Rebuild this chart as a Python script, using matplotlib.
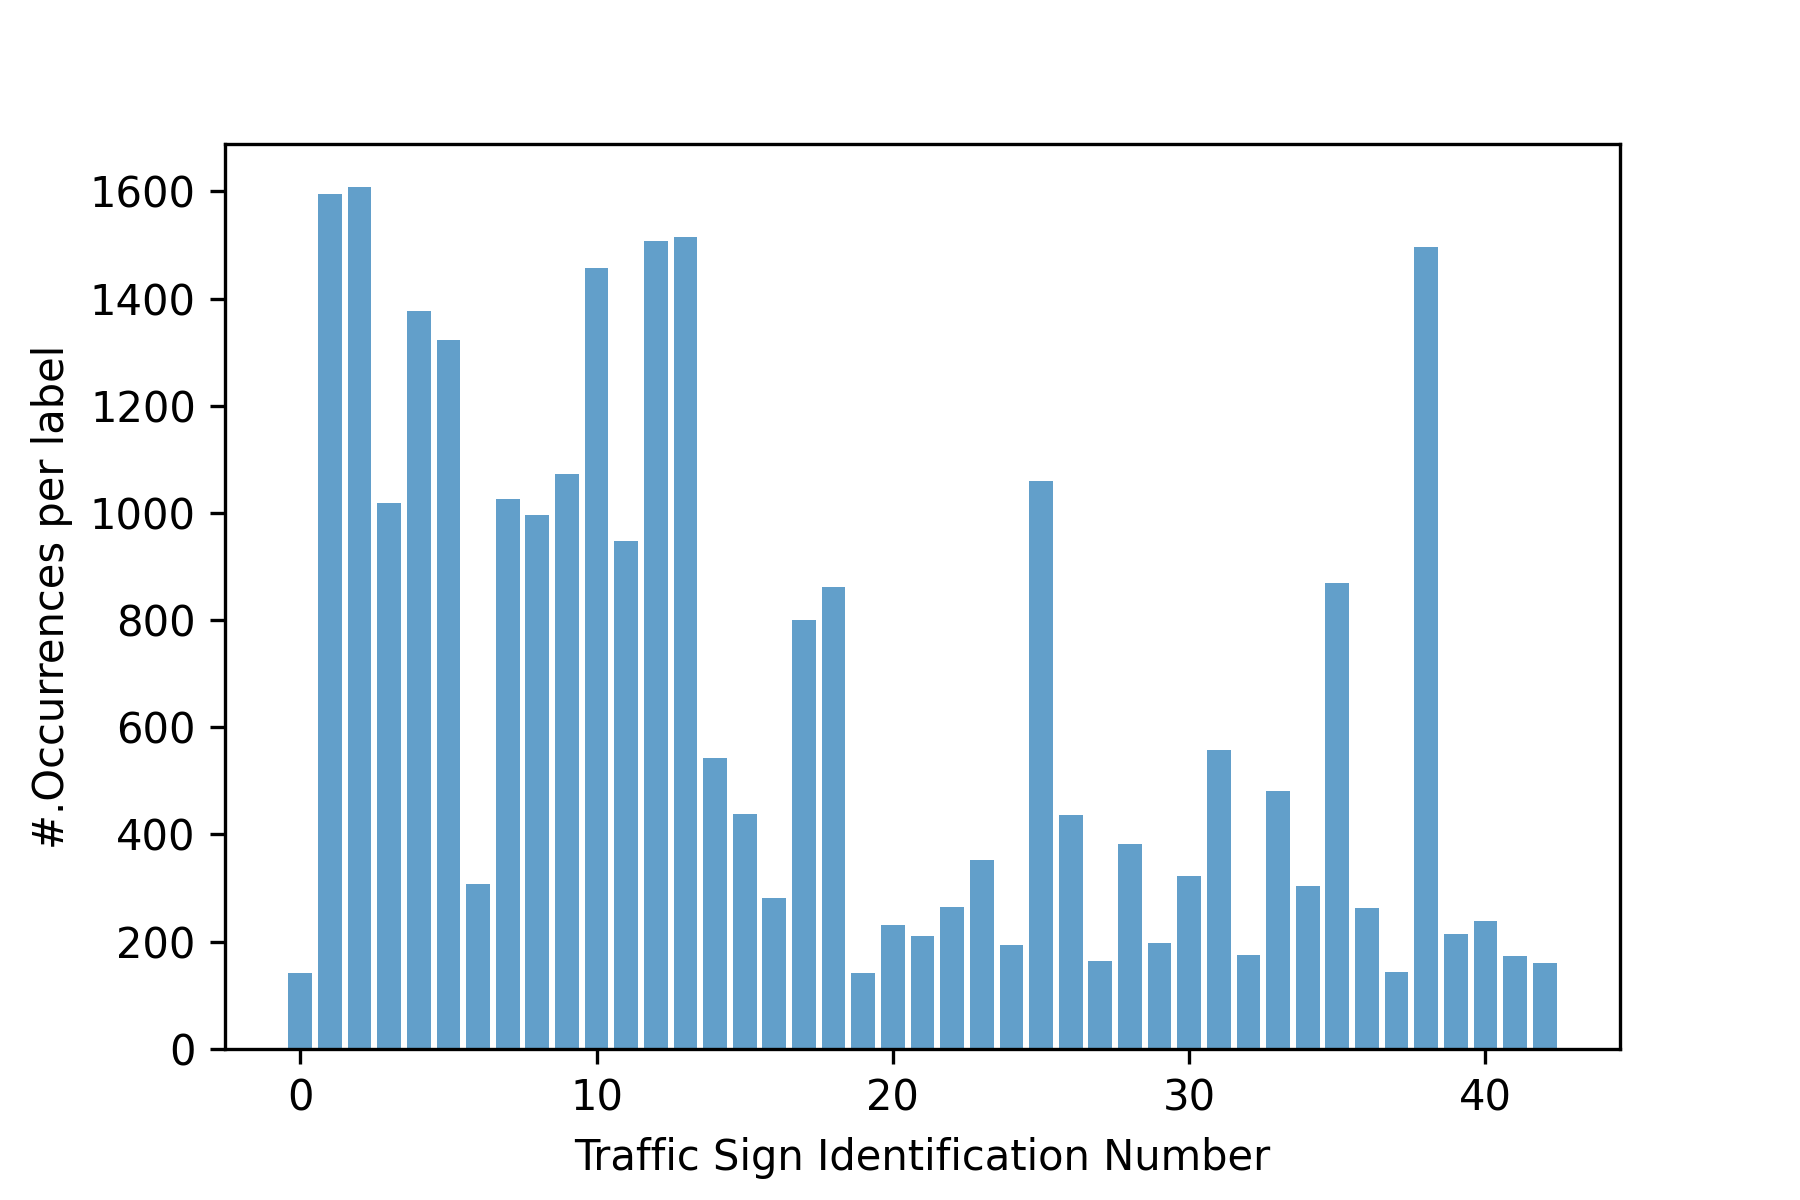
import numpy as np
import matplotlib
matplotlib.use("Agg")
import matplotlib.pyplot as plt

labels = np.arange(43)
counts = [142, 1596, 1608, 1018, 1376, 1322, 307, 1026, 996, 1072,
          1457, 948, 1507, 1514, 543, 439, 281, 800, 861, 142,
          231, 210, 264, 352, 194, 1060, 436, 163, 382, 197,
          322, 557, 175, 482, 304, 869, 262, 144, 1496, 214,
          238, 173, 161]

fig = plt.figure(figsize=(6, 4), dpi=300)
plt.subplots_adjust(left=0.125, right=0.9, top=0.88, bottom=0.126)
plt.bar(labels, counts, alpha=0.7)
plt.xlabel('Traffic Sign Identification Number')
plt.ylabel('#.Occurrences per label')
plt.savefig('out.png', dpi=300)
